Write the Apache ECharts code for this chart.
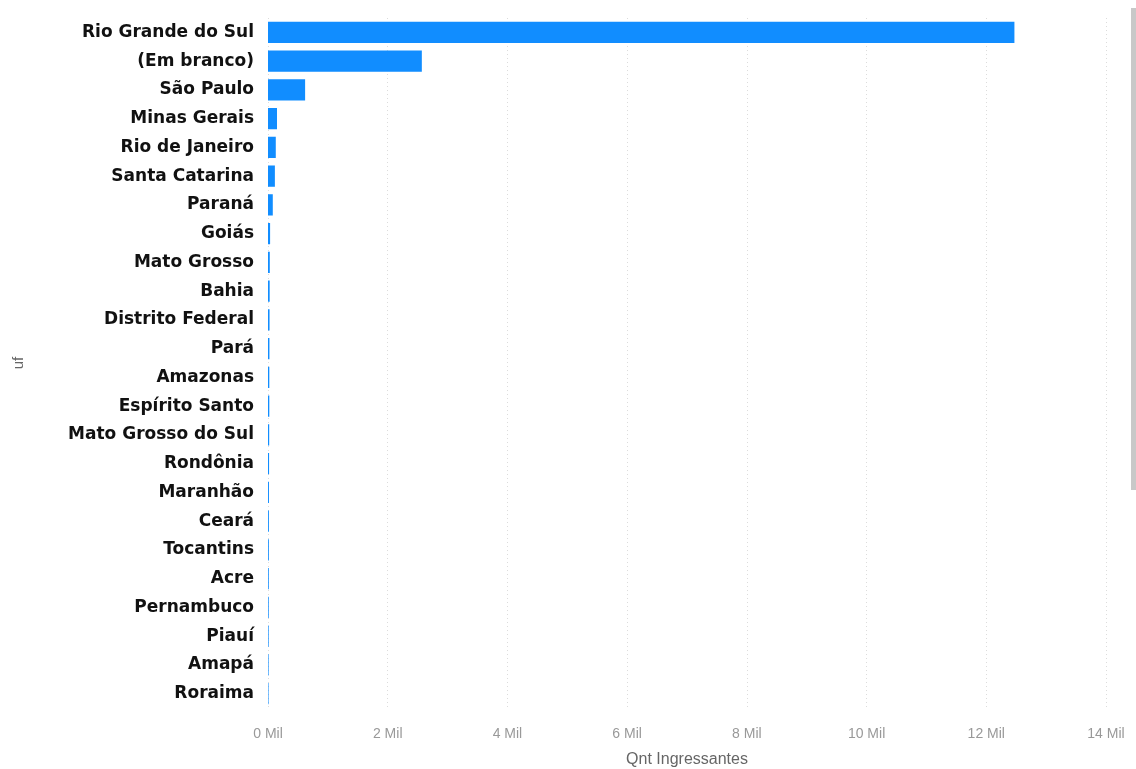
<!DOCTYPE html>
<html>
<head>
<meta charset="utf-8">
<script src="https://cdn.jsdelivr.net/npm/echarts@6/dist/echarts.min.js"></script>
<style>html,body{margin:0;padding:0;background:#fff;}#c{width:1136px;height:769px;}</style>
</head>
<body>
<div id="c"></div>
<script>
const categories = ["Rio Grande do Sul","(Em branco)","São Paulo","Minas Gerais","Rio de Janeiro","Santa Catarina","Paraná","Goiás","Mato Grosso","Bahia","Distrito Federal","Pará","Amazonas","Espírito Santo","Mato Grosso do Sul","Rondônia","Maranhão","Ceará","Tocantins","Acre","Pernambuco","Piauí","Amapá","Roraima"];
const values = [12470, 2570, 620, 150, 130, 115, 80, 35, 30, 28, 26, 24, 22, 22, 20, 18, 16, 15, 14, 13, 12, 11, 10, 9];
const tickValues = [0, 2000, 4000, 6000, 8000, 10000, 12000, 14000];

const chart = echarts.init(document.getElementById('c'));
chart.setOption({
  animation: false,
  backgroundColor: '#fff',
  grid: { left: 268, right: 30, top: 18, bottom: 61, containLabel: false, outerBoundsMode: 'none' },
  xAxis: {
    type: 'value', min: tickValues[0], max: tickValues[tickValues.length - 1], interval: tickValues[1] - tickValues[0],
    name: 'Qnt Ingressantes', nameLocation: 'middle', nameGap: 44,
    nameTextStyle: { color: '#666', fontSize: 16, fontFamily: 'Liberation Sans' },
    axisLine: { show: false }, axisTick: { show: false },
    axisLabel: { color: '#999', fontSize: 14, fontFamily: 'Liberation Sans', margin: 19,
      formatter: v => (v / 1000) + ' Mil' },
    splitLine: { show: true, lineStyle: { color: '#dcdcdc', type: [1, 3], width: 1 } }
  },
  yAxis: {
    type: 'category', data: categories, inverse: true,
    name: 'uf', nameLocation: 'middle', nameGap: 242, nameRotate: 90,
    nameTextStyle: { color: '#666', fontSize: 15, fontFamily: 'Liberation Sans' },
    axisLine: { show: false }, axisTick: { show: false },
    axisLabel: { color: '#111', fontSize: 17, fontWeight: 'bold', fontFamily: 'DejaVu Sans', margin: 14 }
  },
  series: [{
    type: 'bar', data: values, barCategoryGap: '26%',
    itemStyle: { color: '#118DFF' }
  }],
  graphic: [{
    type: 'rect', left: 1131, top: 8, shape: { width: 5, height: 482 },
    style: { fill: '#c8c8c8' }, silent: true
  }]
});
</script>
</body>
</html>
